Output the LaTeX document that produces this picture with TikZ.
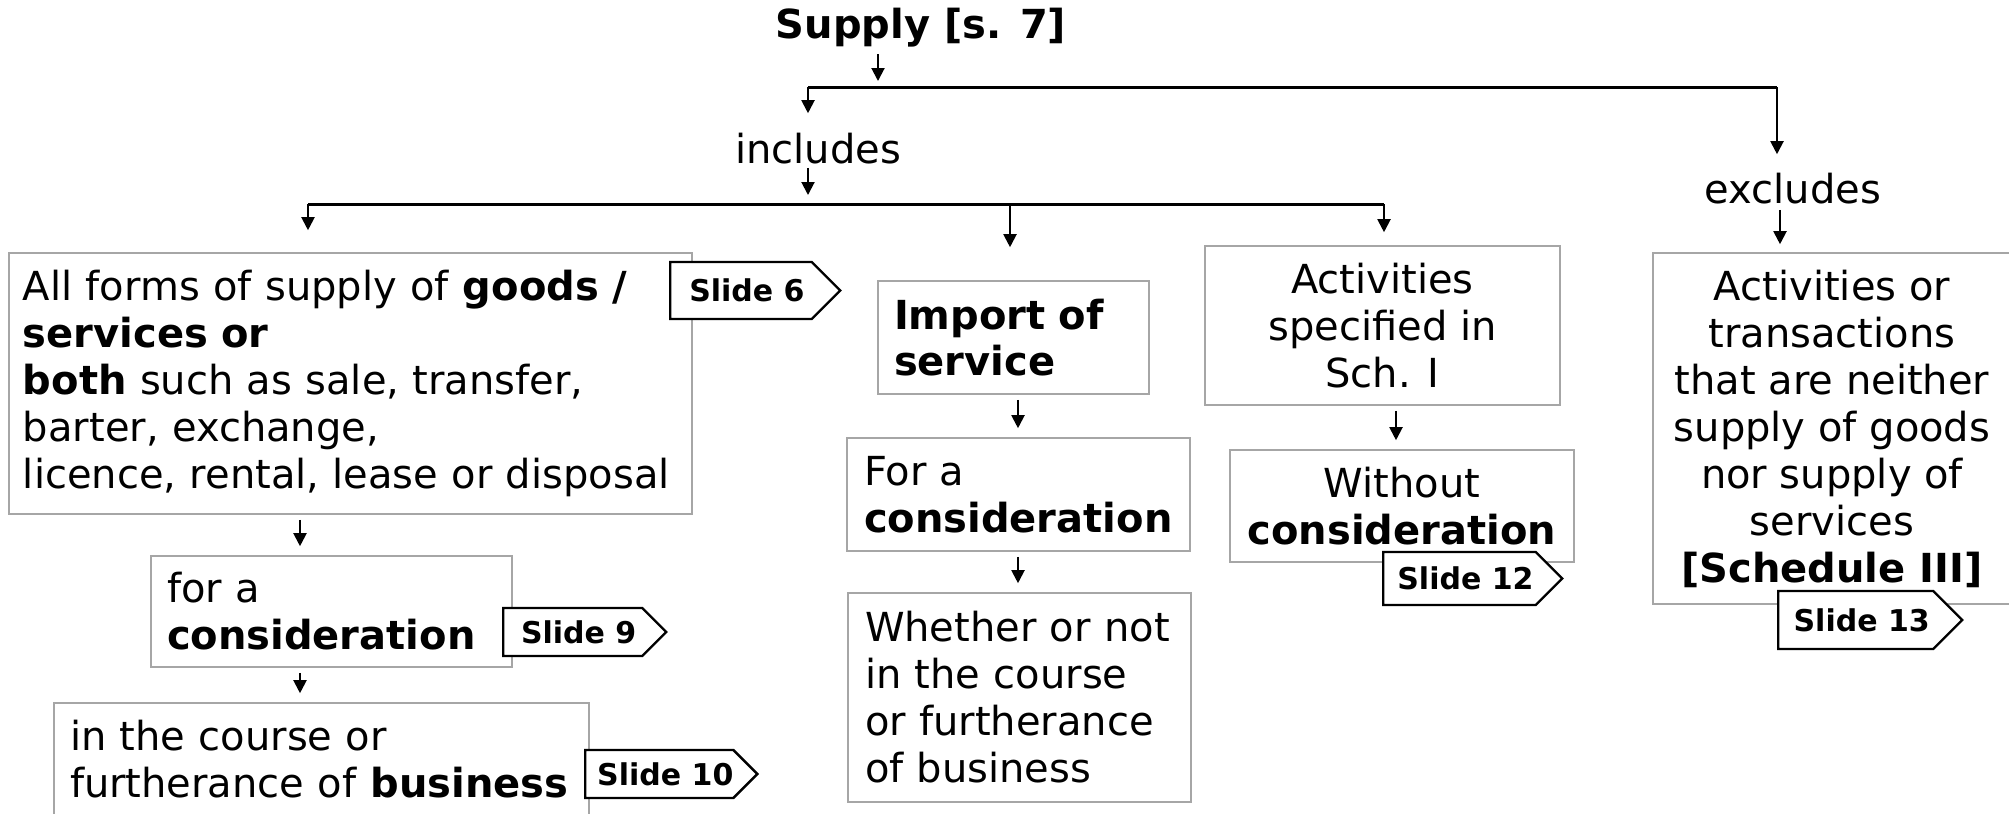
\documentclass[tikz,border=0pt]{standalone}
\usepackage{fontspec}
\setmainfont{DejaVu Sans}
\usetikzlibrary{arrows.meta,shapes.symbols}
\definecolor{boxgray}{RGB}{166,166,166}
\tikzset{
  bar/.style={line width=1.5pt},
  down/.style={line width=1pt,-{Triangle[length=6.5pt,width=6.5pt]},shorten <=2.5pt,shorten >=4.5pt},
  word/.style={inner sep=2pt,anchor=base,font=\fontsize{20pt}{23.5pt}\selectfont},
  box/.style={draw=boxgray,line width=0.8pt,inner ysep=0pt,inner xsep=8pt,font=\fontsize{20pt}{23.5pt}\selectfont},
  slide/.style={shape=signal,signal to=east,draw,line width=1.2pt,fill=white,inner sep=0pt,anchor=west,
    font=\fontsize{15pt}{18pt}\selectfont\bfseries,execute at begin node=\hspace{6pt}}
}
\begin{document}
\begin{tikzpicture}[x=0.5pt,y=-0.5pt]
\useasboundingbox (0,0) rectangle (2009,814);
\clip (0,0) rectangle (2009,814);
% headings
\node[word,font=\fontsize{20pt}{23.5pt}\selectfont\bfseries] (supply) at (921,38) {Supply [s. 7]};
\node[word] (inc) at (818,163) {includes};
\node[word] (exc) at (1793,203) {excludes};
% joints of the brackets
\coordinate (j0) at (878,87);
\coordinate (b1l) at (808,87);
\coordinate (b1r) at (1777,87);
\coordinate (b2l) at (308,204);
\coordinate (b2m) at (808,204);
\coordinate (b2d) at (1010,204);
\coordinate (b2r) at (1384,204);
% columns of the arrows between boxes
\coordinate (c1) at (300,0);
\coordinate (c2) at (1018,0);
\coordinate (c3) at (1396,0);
\coordinate (c4) at (1780,0);
% includes
\node[box,minimum width=341.5pt,minimum height=130.5pt,text width=327.5pt,inner xsep=7pt,align=left] (forms) at (350.5,383.5)
  {All forms of supply of \textbf{goods /}\\ \textbf{services or}\\ \textbf{both} such as sale, transfer,\\
   barter, exchange,\\ licence, rental, lease or disposal};
\node[box,minimum width=180.5pt,minimum height=55.5pt,text width=164.5pt,align=left] (cons1) at (331.5,611.5)
  {for a\\ \textbf{consideration}};
\node[box,minimum width=267.5pt,minimum height=56.5pt,text width=251.5pt,align=left] (course) at (321.5,759.5)
  {in the course or\\ furtherance of \textbf{business}};
\node[box,minimum width=135.5pt,minimum height=56.5pt,text width=119.5pt,align=left,
  font=\fontsize{20pt}{23pt}\selectfont\bfseries] (imp) at (1013.5,337.5) {Import of\\ service};
\node[box,minimum width=171.5pt,minimum height=56.5pt,text width=154.5pt,inner xsep=8.5pt,align=left] (cons2) at (1018.5,494.5)
  {For a\\ \textbf{consideration}};
\node[box,minimum width=171.5pt,minimum height=104.5pt,text width=154.5pt,inner xsep=8.5pt,align=left] (whether) at (1019.5,697.5)
  {Whether or not\\ in the course\\ or furtherance\\ of business};
\node[box,minimum width=177.5pt,minimum height=79.5pt,align=center] (sch1) at (1382.5,325.5)
  {Activities\\ specified in\\ Sch. I};
\node[box,minimum width=172pt,minimum height=56pt,align=center] (without) at (1402,506)
  {Without\\ \textbf{consideration}};
% excludes
\node[box,minimum width=179pt,minimum height=175.5pt,align=center] (sch3) at (1832,428.5)
  {Activities or\\ transactions\\ that are neither\\ supply of goods\\ nor supply of\\ services\\ \textbf{[Schedule III]}};
% connectors
\draw[down,shorten <=1.5pt,shorten >=3pt] (supply.south -| j0) -- (j0);
\draw[bar] (b1l) -- (b1r);
\draw[down,shorten <=0pt,shorten >=7.5pt] (b1l) -- (inc.north -| b1l);
\draw[down,shorten <=0pt,shorten >=7pt] (b1r) -- (exc.north -| b1r);
\draw[down,shorten <=0pt,shorten >=4.5pt] (inc.south -| b2m) -- (b2m);
\draw[bar] (b2l) -- (b2r);
\draw[down,shorten <=0pt,shorten >=11pt] (b2l) -- (forms.north -| b2l);
\draw[down,shorten <=0pt,shorten >=16.5pt] (b2d) -- (imp.north -| b2d);
\draw[down,shorten <=0pt,shorten >=6.5pt] (b2r) -- (sch1.north -| b2r);
\draw[down,shorten <=1pt,shorten >=4pt] (exc.south -| c4) -- (sch3.north -| c4);
\draw[down] (forms.south -| c1) -- (cons1.north -| c1);
\draw[down] (cons1.south -| c1) -- (course.north -| c1);
\draw[down] (imp.south -| c2) -- (cons2.north -| c2);
\draw[down] (cons2.south -| c2) -- (whether.north -| c2);
\draw[down] (sch1.south -| c3) -- (without.north -| c3);
% slide tags
\node[slide,minimum width=85pt,minimum height=28.5pt] (s6) at (669,290.5) {Slide 6};
\node[slide,minimum width=81.5pt,minimum height=24pt] (s9) at (502,632) {Slide 9};
\node[slide,minimum width=85pt,minimum height=24pt] (s10) at (584,774) {Slide 10};
\node[slide,minimum width=89.5pt,minimum height=26.5pt] (s12) at (1382,578.5) {Slide 12};
\node[slide,minimum width=92pt,minimum height=29pt] (s13) at (1777,620) {Slide 13};
\end{tikzpicture}
\end{document}
